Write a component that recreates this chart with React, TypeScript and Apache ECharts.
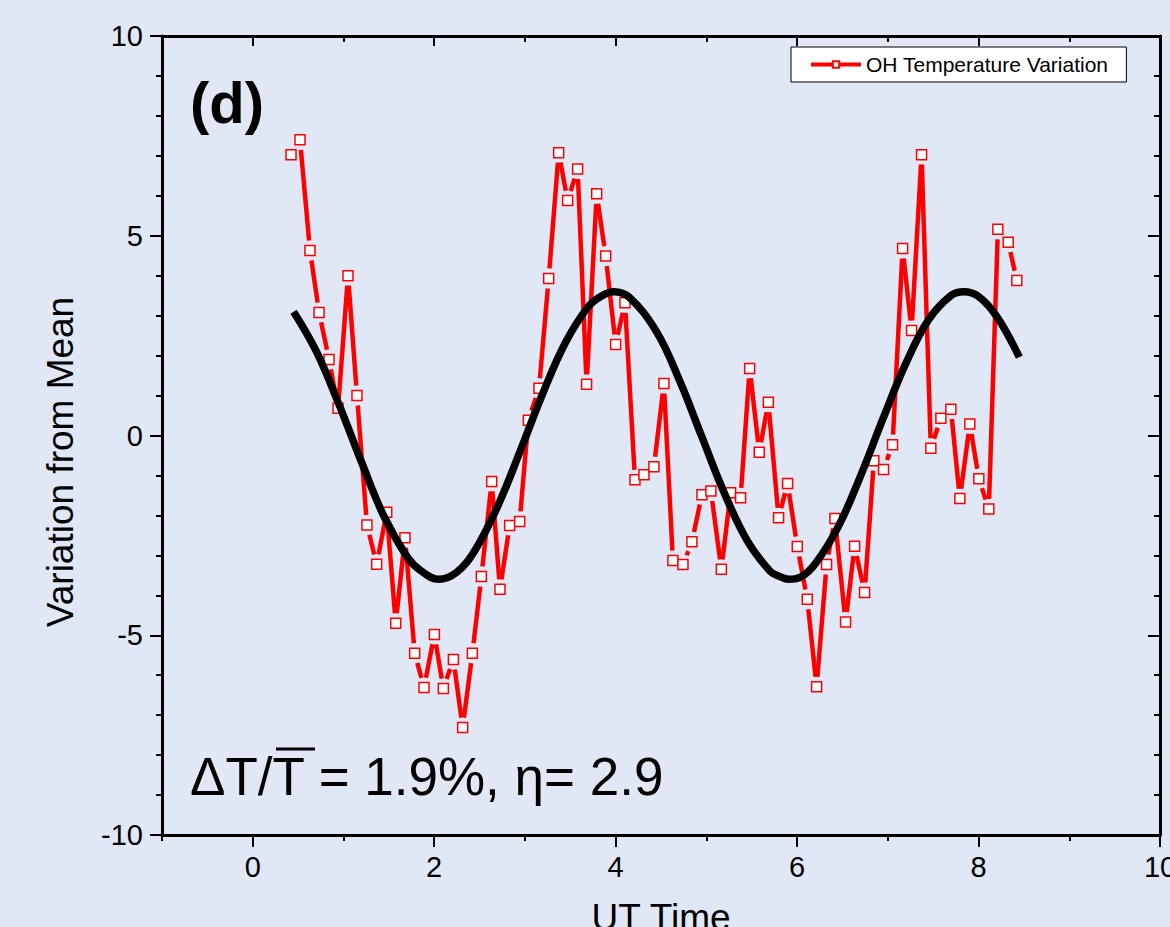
import React, { useEffect, useRef } from "react";
import * as echarts from "echarts";

// OH temperature variation (UT hours, K)
const xOH = [
  0.422, 0.521, 0.631, 0.731, 0.841, 0.94, 1.05, 1.149, 1.259, 1.366,
  1.477, 1.576, 1.678, 1.785, 1.888, 2.002, 2.101, 2.212, 2.314, 2.421,
  2.52, 2.634, 2.725, 2.832, 2.942, 3.038, 3.155, 3.262, 3.372, 3.471,
  3.581, 3.68, 3.791, 3.89, 4.0, 4.103, 4.213, 4.312, 4.422, 4.532,
  4.631, 4.742, 4.841, 4.951, 5.05, 5.165, 5.267, 5.377, 5.477, 5.583,
  5.683, 5.796, 5.895, 6.002, 6.112, 6.215, 6.325, 6.417, 6.534, 6.634,
  6.744, 6.846, 6.953, 7.052, 7.163, 7.262, 7.372, 7.474, 7.585, 7.695,
  7.794, 7.904, 8.003, 8.113, 8.213, 8.327, 8.422,
];
const yOH = [
  7.03, 7.4, 4.63, 3.08, 1.9, 0.68, 4.0, 1.0, -2.24, -3.22,
  -1.92, -4.7, -2.56, -5.45, -6.31, -4.98, -6.33, -5.61, -7.31, -5.45,
  -3.53, -1.15, -3.85, -2.25, -2.15, 0.38, 1.18, 3.93, 7.08, 5.88,
  6.67, 1.28, 6.05, 4.49, 2.28, 3.32, -1.11, -0.98, -0.78, 1.3,
  -3.13, -3.23, -2.66, -1.48, -1.39, -3.35, -1.43, -1.56, 1.68, -0.42,
  0.83, -2.06, -1.2, -2.78, -4.1, -6.29, -3.23, -2.08, -4.67, -2.77,
  -3.93, -0.63, -0.85, -0.23, 4.68, 2.63, 7.03, -0.32, 0.43, 0.66,
  -1.58, 0.29, -1.08, -1.84, 5.16, 4.84, 3.88,
];

// Fitted curve
const xFit = [
  0.45, 0.7, 0.95, 1.2, 1.45, 1.7, 1.85, 2.05, 2.25, 2.45, 2.7, 2.95, 3.2, 3.45, 3.7, 3.85, 3.98, 4.15, 4.45,
  4.7, 4.95, 5.2, 5.45, 5.7, 5.8, 5.91, 6.05, 6.2, 6.45, 6.7, 6.95, 7.2, 7.45, 7.7, 7.84, 8.0, 8.2, 8.45,
];
const yFit = [
  3.1, 2.11, 0.78, -0.67, -2.04, -3.03, -3.38, -3.6, -3.42, -2.87, -1.77, -0.38, 1.07, 2.34, 3.23, 3.5, 3.6, 3.46, 2.6,
  1.4, -0.03, -1.45, -2.63, -3.39, -3.52, -3.6, -3.53, -3.21, -2.3, -1.01, 0.44, 1.81, 2.9, 3.51, 3.6, 3.48, 2.98, 1.96,
];

const xMajor = [0, 2, 4, 6, 8, 10];
const xMinor = [-1, 1, 3, 5, 7, 9];

const seriesName = "OH Temperature Variation";
const panelLabel = "(d)";
const noteText = "\u0394T/T = 1.9%, \u03b7= 2.9";
const xTitle = "UT Time";
const yTitle = "Variation from Mean";

const BG = "#E1E8F5";
const RED = "#ff0000";
const FONT = '"Liberation Sans", Arial, sans-serif';
const GAP = 10;

export default function App() {
  const ref = useRef<HTMLDivElement>(null);
  useEffect(() => {
    if (!ref.current) return;
    const chart = echarts.init(ref.current, null, { renderer: "svg" });
    const ohData = xOH.map((x, i) => [x, yOH[i]]);
    const segData = xOH.slice(0, -1).map((x, i) => [x, yOH[i], xOH[i + 1], yOH[i + 1]]);
    const fitData = xFit.map((x, i) => [x, yFit[i]]);
    const axisLine = { show: true, onZero: false, lineStyle: { color: "#000", width: 3 } };
    const noLine = { show: false, onZero: false };
    const tickStyle = { color: "#000", width: 2 };
    const baseX = { type: "value", min: -1, max: 10, interval: 1, gridIndex: 0, splitLine: { show: false } };
    chart.setOption({
      animation: false,
      backgroundColor: BG,
      textStyle: { fontFamily: FONT },
      grid: { left: 162, right: 10, top: 36, bottom: 92, containLabel: false, outerBoundsMode: "none" },
      legend: {
        data: [seriesName],
        left: 791,
        top: 47,
        padding: [7, 18, 7, 18],
        backgroundColor: "#fff",
        borderColor: "#000",
        borderWidth: 1,
        borderRadius: 0,
        itemWidth: 50,
        itemHeight: 8,
        lineStyle: { color: RED, width: 4, opacity: 1 },
        textStyle: { fontSize: 21, color: "#000", fontFamily: FONT },
      },
      xAxis: [
        {
          ...baseX,
          position: "bottom",
          axisLine,
          axisTick: { show: true, inside: false, length: 12, lineStyle: tickStyle, customValues: xMajor },
          axisLabel: { show: true, customValues: xMajor, fontSize: 29, color: "#000", margin: 17, fontFamily: FONT },
          name: xTitle,
          nameLocation: "middle",
          nameGap: 64,
          nameTextStyle: { fontSize: 37, color: "#000", fontFamily: FONT },
        },
        {
          ...baseX,
          position: "bottom",
          axisLine: noLine,
          axisTick: { show: true, inside: false, length: 6, lineStyle: tickStyle, customValues: xMinor },
          axisLabel: { show: false },
        },
        {
          ...baseX,
          position: "top",
          axisLine,
          axisTick: { show: true, inside: true, length: 10, lineStyle: tickStyle, customValues: xMajor },
          axisLabel: { show: false },
        },
        {
          ...baseX,
          position: "top",
          axisLine: noLine,
          axisTick: { show: true, inside: true, length: 6, lineStyle: tickStyle, customValues: xMinor },
          axisLabel: { show: false },
        },
      ],
      yAxis: [
        {
          type: "value",
          min: -10,
          max: 10,
          interval: 5,
          position: "left",
          axisLine,
          splitLine: { show: false },
          axisTick: { show: true, inside: false, length: 12, lineStyle: tickStyle },
          minorTick: { show: true, splitNumber: 5, length: 6, lineStyle: tickStyle },
          axisLabel: { fontSize: 29, color: "#000", margin: 19, fontFamily: FONT },
        },
        {
          type: "value",
          min: -10,
          max: 10,
          interval: 5,
          position: "right",
          axisLine,
          splitLine: { show: false },
          axisTick: { show: true, inside: true, length: 12, lineStyle: tickStyle },
          minorTick: { show: true, splitNumber: 5, length: 6, lineStyle: tickStyle },
          axisLabel: { show: false },
        },
      ],
      series: [
        {
          name: "segments",
          type: "custom",
          xAxisIndex: 0,
          yAxisIndex: 0,
          data: segData,
          encode: { x: [0, 2], y: [1, 3] },
          z: 2,
          silent: true,
          renderItem: (params: any, api: any) => {
            const p1 = api.coord([api.value(0), api.value(1)]);
            const p2 = api.coord([api.value(2), api.value(3)]);
            const dx = p2[0] - p1[0];
            const dy = p2[1] - p1[1];
            const len = Math.sqrt(dx * dx + dy * dy);
            if (len <= 2 * GAP + 1) return null;
            const ux = dx / len;
            const uy = dy / len;
            return {
              type: "line",
              shape: {
                x1: p1[0] + ux * GAP,
                y1: p1[1] + uy * GAP,
                x2: p2[0] - ux * GAP,
                y2: p2[1] - uy * GAP,
              },
              style: { stroke: RED, lineWidth: 4.5, lineCap: "butt" },
            };
          },
        },
        {
          name: seriesName,
          type: "line",
          xAxisIndex: 0,
          yAxisIndex: 0,
          data: ohData,
          z: 3,
          symbol: "rect",
          symbolSize: 10,
          showSymbol: true,
          itemStyle: { color: "#fff", borderColor: RED, borderWidth: 1.5 },
          lineStyle: { color: RED, width: 4.5, opacity: 0 },
        },
        {
          name: "fit",
          type: "line",
          xAxisIndex: 0,
          yAxisIndex: 0,
          data: fitData,
          z: 5,
          smooth: 0.4,
          showSymbol: false,
          symbol: "none",
          lineStyle: { color: "#000", width: 7.5 },
        },
      ],
      graphic: [
        {
          type: "text",
          x: 190,
          y: 102,
          z: 10,
          style: {
            text: panelLabel,
            font: `bold 58px ${FONT}`,
            fill: "#000",
            textAlign: "left",
            textVerticalAlign: "middle",
          },
        },
        {
          type: "text",
          x: 190,
          y: 776,
          z: 10,
          style: {
            text: noteText,
            font: `53px ${FONT}`,
            fill: "#000",
            textAlign: "left",
            textVerticalAlign: "middle",
          },
        },
        {
          type: "line",
          z: 10,
          shape: { x1: 276, y1: 749, x2: 315, y2: 749 },
          style: { stroke: "#000", lineWidth: 3 },
        },
        {
          type: "text",
          x: 60,
          y: 462,
          rotation: Math.PI / 2,
          z: 10,
          style: {
            text: yTitle,
            font: `37px ${FONT}`,
            fill: "#000",
            textAlign: "center",
            textVerticalAlign: "middle",
          },
        },
      ],
    });
    return () => chart.dispose();
  }, []);
  return (
    <div style={{ position: "fixed", left: 0, top: 0, width: 1170, height: 927, background: BG }}>
      <div ref={ref} style={{ width: 1170, height: 927 }} />
    </div>
  );
}
